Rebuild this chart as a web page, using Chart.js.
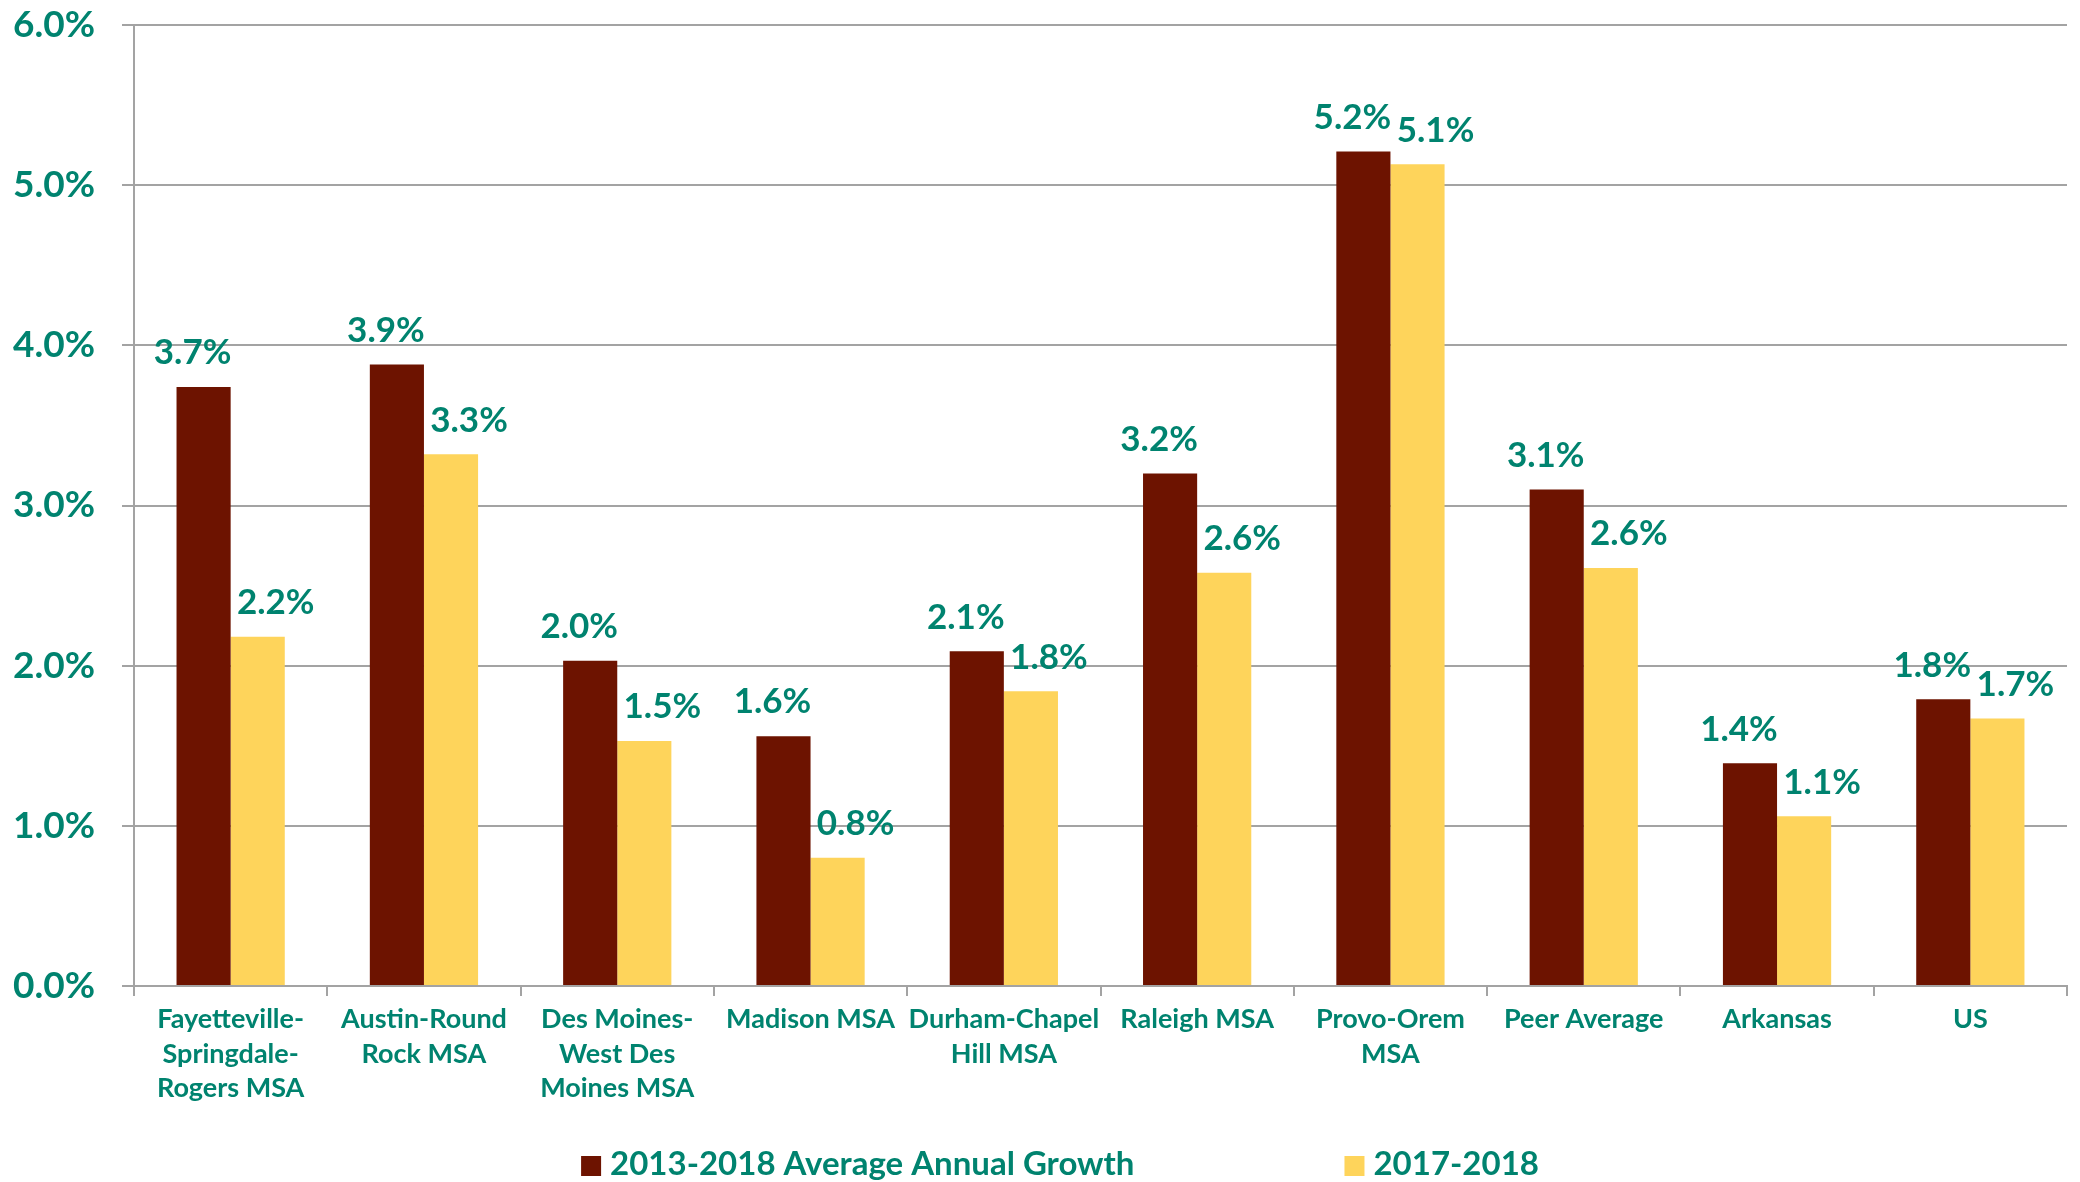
<!DOCTYPE html>
<html>
<head>
<meta charset="utf-8">
<script src="https://cdn.jsdelivr.net/npm/chart.js@4/dist/chart.umd.min.js"></script>
<style>
  html, body { margin: 0; padding: 0; background: #ffffff; }
  #wrap { position: relative; width: 2080px; height: 1182px; }
</style>
</head>
<body>
<div id="wrap"><canvas id="c" width="2080" height="1182"></canvas></div>
<script>
const categories = [
  ["Fayetteville-", "Springdale-", "Rogers MSA"],
  ["Austin-Round", "Rock MSA"],
  ["Des Moines-", "West Des", "Moines MSA"],
  "Madison MSA",
  ["Durham-Chapel", "Hill MSA"],
  "Raleigh MSA",
  ["Provo-Orem", "MSA"],
  "Peer Average",
  "Arkansas",
  "US"
];
const seriesNames = ["2013-2018 Average Annual Growth", "2017-2018"];
const growth2013to2018 = [3.74, 3.88, 2.03, 1.56, 2.09, 3.20, 5.21, 3.10, 1.39, 1.79];
const growth2017to2018 = [2.18, 3.32, 1.53, 0.80, 1.84, 2.58, 5.13, 2.61, 1.06, 1.67];
const yTickValues = [0, 1, 2, 3, 4, 5, 6];

const TEAL = '#00836F';
const DARK = '#6D1300';
const YELLOW = '#FED45B';
const GRID = '#A3A3A3';
const FONT = 'Lato, "Open Sans", sans-serif';

const labelOffsets = [-11, 18];

const dataLabelPlugin = {
  id: 'dataLabels',
  afterDatasetsDraw(chart) {
    const ctx = chart.ctx;
    ctx.save();
    ctx.font = 'bold 35px ' + FONT;
    ctx.fillStyle = TEAL;
    ctx.textAlign = 'center';
    ctx.textBaseline = 'middle';
    chart.data.datasets.forEach((ds, di) => {
      const meta = chart.getDatasetMeta(di);
      meta.data.forEach((bar, i) => {
        const v = ds.data[i];
        ctx.fillText(v.toFixed(1) + '%', bar.x + labelOffsets[di], bar.y - 34);
      });
    });
    ctx.restore();
  }
};

const legendPlugin = {
  id: 'customLegend',
  afterDraw(chart) {
    const ctx = chart.ctx;
    ctx.save();
    ctx.font = 'bold 33px ' + FONT;
    ctx.textBaseline = 'middle';
    ctx.textAlign = 'left';
    const box = 20, boxGap = 9, itemGap = 210;
    const items = chart.data.datasets.map(ds => ({
      text: ds.label, color: ds.backgroundColor, w: box + boxGap + ctx.measureText(ds.label).width
    }));
    const total = items.reduce((s, it) => s + it.w, 0) + itemGap * (items.length - 1);
    let x = chart.width / 2 + 20 - total / 2;
    const y = 1164;
    items.forEach(it => {
      ctx.fillStyle = it.color;
      ctx.fillRect(x, y - box / 2 + 2, box, box);
      ctx.fillStyle = TEAL;
      ctx.fillText(it.text, x + box + boxGap, y);
      x += it.w + itemGap;
    });
    ctx.restore();
  }
};

new Chart(document.getElementById('c'), {
  type: 'bar',
  data: {
    labels: categories,
    datasets: [
      { label: seriesNames[0], data: growth2013to2018, backgroundColor: DARK, categoryPercentage: 0.56, barPercentage: 1.0 },
      { label: seriesNames[1], data: growth2017to2018, backgroundColor: YELLOW, categoryPercentage: 0.56, barPercentage: 1.0 }
    ]
  },
  options: {
    responsive: false,
    animation: false,
    devicePixelRatio: 1,
    layout: { padding: { left: 0, right: 13, top: 25, bottom: 66 } },
    plugins: {
      legend: { display: false },
      tooltip: { enabled: false }
    },
    scales: {
      x: {
        afterFit(scale) { scale.height = 130; scale.paddingLeft = 0; scale.paddingRight = 0; },
        grid: { display: true, drawOnChartArea: false, drawTicks: true, tickLength: 10, color: GRID, lineWidth: 2, offset: true },
        border: { display: true, color: GRID, width: 2 },
        ticks: {
          color: TEAL,
          font: { family: FONT, size: 27, weight: 'bold', lineHeight: 1.28 },
          padding: 6,
          maxRotation: 0, minRotation: 0, autoSkip: false
        }
      },
      y: {
        min: 0, max: 6,
        afterFit(scale) { scale.width = 134; scale.paddingTop = 0; scale.paddingBottom = 0; },
        afterBuildTicks(scale) { scale.ticks = yTickValues.map(v => ({ value: v })); },
        grid: { color: GRID, lineWidth: 2, drawTicks: true, tickLength: 12 },
        border: { display: true, color: GRID, width: 2 },
        ticks: {
          color: TEAL,
          font: { family: FONT, size: 37, weight: 'bold' },
          padding: 27,
          callback: v => Number(v).toFixed(1) + '%'
        }
      }
    }
  },
  plugins: [dataLabelPlugin, legendPlugin]
});
</script>
</body>
</html>
